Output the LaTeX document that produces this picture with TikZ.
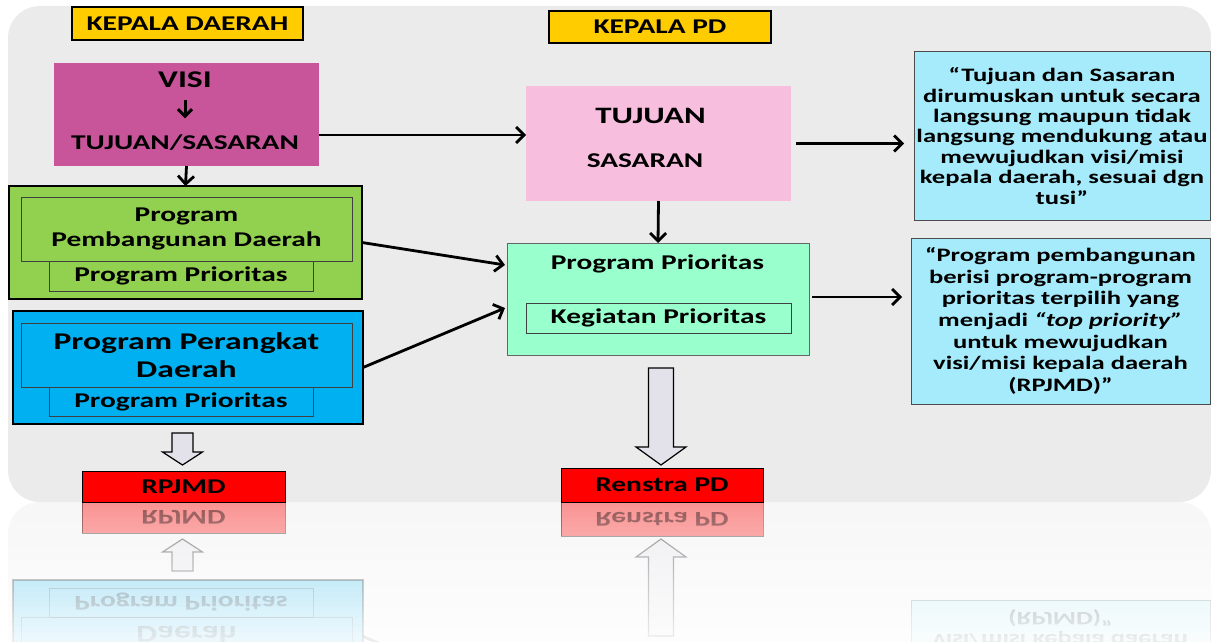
\documentclass[tikz,border=0pt]{standalone}
\usepackage{fontspec}
\setmainfont{Carlito}[FakeStretch=1.4]
\usetikzlibrary{arrows.meta,calc}
\definecolor{bgray}{HTML}{EBEBEB}
\definecolor{kyellow}{HTML}{FFCC00}
\definecolor{kmag}{HTML}{C8559A}
\definecolor{kgreen}{HTML}{92D050}
\definecolor{kblue}{HTML}{00B0F0}
\definecolor{kpink}{HTML}{F8BEDE}
\definecolor{kmint}{HTML}{99FFCC}
\definecolor{kcyan}{HTML}{A6EBFB}
\definecolor{kred}{HTML}{FF0000}
\definecolor{harrow}{HTML}{E3E1E9}
\newcommand\myfs[2]{\fontsize{#1}{#2}\selectfont\bfseries}

\newcommand\drawdiagram{%
 \fill[bgray, rounded corners=32pt] (8,6) rectangle (1211,502);
 \node[hdr, minimum width=231pt, minimum height=33pt] (kd) at (187.5,23.5) {KEPALA DAERAH};
 \node[hdr, minimum width=222pt, minimum height=32pt] (kpd) at (660,27) {KEPALA PD};
 % visi
 \node[plain, fill=kmag, minimum width=265pt, minimum height=103pt] (visi) at (186.5,114.5) {};
 \node[txt, anchor=base, font=\myfs{24}{28}] (visitxt) at (185,87.3) {VISI};
 \node[txt, anchor=base] (tstxt) at (185,149.3) {TUJUAN/SASARAN};
 \draw[sarr] ([yshift=-13pt]visitxt.base) -- ([yshift=31pt]tstxt.base);
 % green
 \node[plain, fill=kgreen, draw=black, line width=2pt, minimum width=353pt, minimum height=113pt] (green) at (185.5,242.5) {};
 \node[inbox, minimum width=331pt, minimum height=64pt, font=\myfs{21}{25.6}] (greenin) at (186.5,229) {Program\\Pembangunan Daerah};
 \node[inbox, minimum width=264pt, minimum height=30pt] (greensub) at (181,276) {Program Prioritas};
 % blue
 \node[plain, fill=kblue, draw=black, line width=2pt, minimum width=350pt, minimum height=113pt] (blue) at (188,367.5) {};
 \node[inbox, minimum width=331pt, minimum height=64pt, font=\myfs{24}{28.4}] (bluein) at (186.5,355) {Program Perangkat\\Daerah};
 \node[inbox, minimum width=264pt, minimum height=29pt] (bluesub) at (181,401.5) {Program Prioritas};
 % tujuan
 \node[plain, fill=kpink, minimum width=265pt, minimum height=115pt] (tuj) at (658.5,143.5) {};
 \node[txt, anchor=base, font=\myfs{23.5}{28}] (tujtxt) at (650.5,124) {TUJUAN};
 \node[txt, anchor=base] (sastxt) at (645,167.7) {SASARAN};
 % mint
 \node[plain, fill=kmint, draw=black!60, line width=0.9pt, minimum width=302pt, minimum height=112pt] (mint) at (658,299) {};
 \node[txt, anchor=base] (minttxt) at (657.5,269) {Program Prioritas};
 \node[inbox, minimum width=265pt, minimum height=30pt] (mintin) at (658.5,318) {Kegiatan Prioritas};
 % cyan notes
 \node[cbox, minimum width=296pt, minimum height=168pt, font=\myfs{19}{20.4}] (cyan1) at (1062,136) {“Tujuan dan Sasaran\\dirumuskan untuk secara\\langsung maupun tidak\\langsung mendukung atau\\mewujudkan visi/misi\\kepala daerah, sesuai dgn\\tusi”};
 \node[cbox, minimum width=299pt, minimum height=166pt, font=\myfs{19}{21.6}] (cyan2) at (1060.5,321) {“Program pembangunan\\berisi program-program\\prioritas terpilih yang\\menjadi \textit{“top priority”}\\untuk mewujudkan\\visi/misi kepala daerah\\(RPJMD)”};
 % red
 \node[rbox, minimum width=203pt, minimum height=31pt] (rpjmd) at (183.5,486.5) {RPJMD};
 \node[rbox, minimum width=202pt, minimum height=34pt] (renstra) at (662,485) {Renstra PD};
 % connectors
 \draw[arr] (visi.south) -- (green.north);
 \draw[arr] ([yshift=-20.5pt]visi.east) -- ([yshift=8.5pt]tuj.west);
 \draw[arr] ($(tuj.east)+(5,0)$) -- ($(cyan1.west |- tuj.east)+(-10,0)$);
 \draw[arr] (tuj.south) -- (mint.north);
 \draw[arr] (green.east) -- ($(mint.north west)+(-2,22)$);
 \draw[arr] (blue.east) -- ($(mint.north west)+(-2,65)$);
 \draw[arr] ($(mint.east)+(3,-2)$) -- ($(cyan2.west |- mint.east)+(-9,-2)$);
 \draw[hollow] ($(rpjmd.north)+(-1,-6)$) -- ++(-20,-13) -- ++(9.5,0) -- ++(0,-19) -- ++(21,0) -- ++(0,19) -- ++(9.5,0) -- cycle;
 \draw[hollow] ($(renstra.north)+(-1,-3)$) -- ++(-25,-18) -- ++(12.5,0) -- ++(0,-79) -- ++(25,0) -- ++(0,79) -- ++(12.5,0) -- cycle;
}

\begin{document}
\begin{tikzpicture}[x=1pt,y=-1pt,
  plain/.style={inner sep=0pt, outer sep=0pt},
  txt/.style={inner sep=0pt, outer sep=0pt, font=\myfs{21}{25}},
  hdr/.style={plain, fill=kyellow, draw=black, line width=1.2pt, font=\myfs{21}{25}},
  inbox/.style={plain, draw=black!75, line width=0.9pt, align=center, font=\myfs{21}{25}},
  cbox/.style={plain, fill=kcyan, draw=black!70, line width=1pt, align=center},
  rbox/.style={plain, fill=kred, draw=black, line width=1pt, font=\myfs{21}{25}},
  arr/.style={-{Straight Barb[length=8pt,width=16pt]}, line width=2.8pt},
  sarr/.style={-{Straight Barb[length=7pt,width=14pt]}, line width=3pt},
  hollow/.style={draw=black, line width=1.2pt, fill=harrow, line join=miter}]
 \useasboundingbox (0,0) rectangle (1211,642);
 \fill[white] (0,0) rectangle (1211,642);
 \begin{scope}
  \clip (0,502) rectangle (1211,642);
  \begin{scope}[yshift=-1004pt, yscale=-1, transform shape, opacity=0.4]
   \drawdiagram
  \end{scope}
 \end{scope}
 \foreach \i in {0,...,27} {
  \fill[white, opacity={0.031*\i}] (0,{502+5*\i}) rectangle (1211,{507+5*\i});
 }
 \drawdiagram
\end{tikzpicture}
\end{document}
